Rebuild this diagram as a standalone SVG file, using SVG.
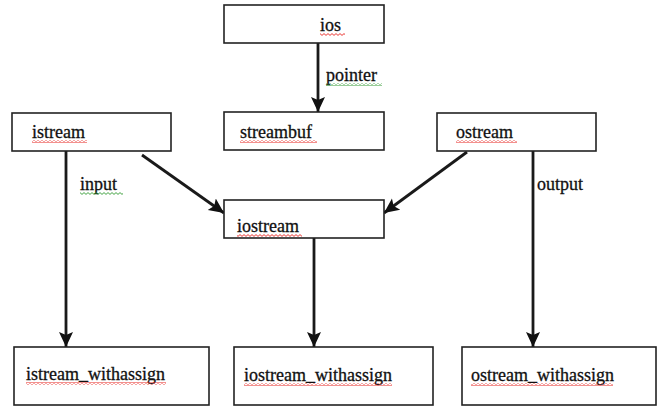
<svg xmlns="http://www.w3.org/2000/svg" width="659" height="407" viewBox="0 0 659 407">
<style>
.box{fill:#fff;stroke:#222;stroke-width:1.6}
.lbl{font-family:"Liberation Serif","Times New Roman",serif;font-size:18px;fill:#111;stroke:#111;stroke-width:0.3}
.edge{stroke:#1a1a1a;stroke-width:2.8;fill:none}
.sq-r{fill:url(#sqr)}
.sq-g{fill:url(#sqg)}
</style>
<defs>
<marker id="ah" markerUnits="userSpaceOnUse" markerWidth="16" markerHeight="16" viewBox="0 0 16 16" refX="15" refY="8" orient="auto">
<path d="M0,1 L15,8 L0,15 L3,8 Z" fill="#111"/>
</marker>
<pattern id="sqr" patternUnits="userSpaceOnUse" width="4" height="3">
<path d="M0,0.6 L2,2.4 L4,0.6" stroke="#e8201c" stroke-width="0.9" fill="none"/>
</pattern>
<pattern id="sqg" patternUnits="userSpaceOnUse" width="4" height="3">
<path d="M0,0.6 L2,2.4 L4,0.6" stroke="#2f9a2f" stroke-width="0.9" fill="none"/>
</pattern>
</defs>

<g id="connectors">
<line class="edge" x1="318" y1="43" x2="318" y2="112" marker-end="url(#ah)"/>
<line class="edge" x1="66" y1="151" x2="66" y2="347" marker-end="url(#ah)"/>
<line class="edge" x1="142" y1="155" x2="224" y2="213" marker-end="url(#ah)"/>
<line class="edge" x1="467" y1="152" x2="384" y2="213" marker-end="url(#ah)"/>
<line class="edge" x1="314" y1="238" x2="314" y2="347" marker-end="url(#ah)"/>
<line class="edge" x1="533" y1="151" x2="533" y2="347" marker-end="url(#ah)"/>
<text class="lbl" x="326" y="81">pointer</text>
<rect class="sq-g" x="326" y="83" width="56" height="3"/>
<text class="lbl" x="80" y="190">input</text>
<rect class="sq-g" x="80" y="192" width="43" height="3"/>
<text class="lbl" x="537" y="190">output</text>
</g>

<g id="ios">
<rect class="box" x="224" y="5" width="160" height="38"/>
<text class="lbl" x="320" y="31">ios</text>
<rect class="sq-r" x="320" y="33" width="25" height="3"/>
</g>
<g id="streambuf">
<rect class="box" x="224" y="112" width="160" height="38"/>
<text class="lbl" x="240" y="138">streambuf</text>
<rect class="sq-r" x="240" y="140" width="77" height="3"/>
</g>
<g id="istream">
<rect class="box" x="12" y="113" width="159" height="38"/>
<text class="lbl" x="32" y="138">istream</text>
<rect class="sq-r" x="32" y="140" width="55" height="3"/>
</g>
<g id="ostream">
<rect class="box" x="437" y="113" width="159" height="38"/>
<text class="lbl" x="456" y="138">ostream</text>
<rect class="sq-r" x="456" y="140" width="61" height="3"/>
</g>
<g id="iostream">
<rect class="box" x="224" y="200" width="160" height="38"/>
<text class="lbl" x="237" y="232">iostream</text>
<rect class="sq-r" x="237" y="234" width="65" height="3"/>
</g>
<g id="istream_withassign">
<rect class="box" x="14" y="347" width="195" height="58"/>
<text class="lbl" x="26" y="380">istream_withassign</text>
<rect class="sq-r" x="26" y="382" width="140" height="3"/>
</g>
<g id="iostream_withassign">
<rect class="box" x="234" y="347" width="199" height="58"/>
<text class="lbl" x="244" y="381">iostream_withassign</text>
<rect class="sq-r" x="244" y="383" width="148" height="3"/>
</g>
<g id="ostream_withassign">
<rect class="box" x="462" y="347" width="194" height="58"/>
<text class="lbl" x="471" y="381">ostream_withassign</text>
<rect class="sq-r" x="471" y="383" width="142" height="3"/>
</g>
</svg>
